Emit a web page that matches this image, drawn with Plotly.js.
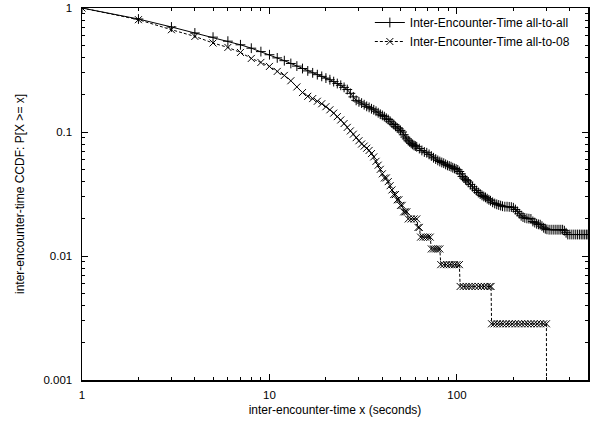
<!DOCTYPE html>
<html>
<head>
<meta charset="utf-8">
<script src="https://cdn.plot.ly/plotly-3.0.1.min.js"></script>
<style>
html,body{margin:0;padding:0;background:#fff;}
#chart{width:593px;height:425px;}
</style>
</head>
<body>
<div id="chart"></div>
<script>
// Inter-encounter time CCDF, all-to-all
const xAll = [
  1,2,3,4,5,6,7,8,9,10,11,12,13,14,15,16,17,18,19,20,21,22,23,24,25,26,27,28,29,
  30,31,32,33,34,35,36,37,38,39,40,41,42,43,44,45,46,47,48,49,50,51,52,53,54,55,56,57,58,59,60,61,
  63,65,67,69,71,73,75,77,79,81,83,85,87,89,91,93,95,97,99,101,
  103,105,107,109,111,113,115,
  118,121,124,127,130,133,136,139,142,145,148,151,
  155,159,163,167,171,175,
  180,185,190,195,200,205,210,215,220,225,230,
  236,242,248,254,260,266,272,278,284,290,296,302,
  310,318,326,334,342,350,358,366,374,382,390,
  400,410,420,430,440,450,460,470,480,490,500];
const yAll = [
  1,0.815,0.703,0.629,0.582,0.54,0.505,0.474,0.445,0.42,0.396,0.376,0.357,0.34,0.325,0.311,0.3,0.29,0.281,0.272,0.264,0.255,0.246,0.238,0.229,0.22,0.205,0.192,0.18,
  0.175,0.171,0.166,0.161,0.158,0.154,0.151,0.147,0.143,0.139,0.136,0.133,0.129,0.126,0.122,0.118,0.115,0.111,0.108,0.106,0.103,0.1,0.095,0.091,0.088,0.085,0.083,0.081,0.0795,0.078,0.077,0.076,
  0.0735,0.071,0.069,0.068,0.066,0.064,0.062,0.0605,0.059,0.0578,0.0568,0.056,0.0548,0.0538,0.0532,0.0525,0.0515,0.0508,0.0502,0.0495,
  0.048,0.046,0.0438,0.0425,0.0413,0.0405,0.0395,
  0.0378,0.0362,0.0348,0.0337,0.0325,0.0316,0.0308,0.0302,0.0297,0.029,0.0284,0.0279,
  0.0271,0.0265,0.0261,0.0258,0.0255,0.0252,
  0.025,0.025,0.0249,0.0248,0.0245,0.0237,0.0229,0.0219,0.0211,0.0206,0.0203,
  0.0201,0.02,0.0199,0.019,0.0186,0.0182,0.018,0.0179,0.0174,0.0169,0.0166,0.0164,
  0.0163,0.0163,0.0163,0.0163,0.0163,0.0163,0.0163,0.0163,0.016,0.0154,0.0149,
  0.0149,0.0149,0.0149,0.0149,0.0149,0.0149,0.0149,0.0149,0.0149,0.0149,0.0149];

// Inter-encounter time CCDF, all-to-08
const x08 = [1,2,3,4,5,6,7,8,9,10,11,12,13,14,15,16,17,18,19,20,
  21,22,23,24,25,26,27,28,29,30,31,32,33,34,35,36,37,38,39,40,
  41,42,43,44,45,46,47,48,49,50,51,52,53,54,
  55,57,59,61,62,63,
  64,66,68,70,72,
  73,75,77,79,81,
  82,85,88,91,94,97,100,103,
  104,108,112,116,120,125,130,135,140,145,150,152,
  153,158,164,170,176,183,190,197,205,213,221,230,239,248,258,268,279,290,300,
  301];
const y08 = [1,0.805,0.668,0.59,0.522,0.481,0.438,0.392,0.364,0.338,
  0.308,0.286,0.259,0.231,0.208,0.194,0.186,0.177,0.169,0.16,
  0.151,0.142,0.133,0.125,0.117,0.109,0.102,0.096,0.09,0.085,
  0.08,0.077,0.074,0.071,0.067,0.063,0.058,0.054,0.05,0.046,
  0.0426,0.0426,0.0398,0.0369,0.0341,0.0313,0.0313,0.0284,0.0284,0.0256,0.0256,0.0227,0.0227,0.0227,
  0.0199,0.0199,0.0199,0.0199,0.017,0.017,
  0.0142,0.0142,0.0142,0.0142,0.0142,
  0.0114,0.0114,0.0114,0.0114,0.0114,
  0.00852,0.00852,0.00852,0.00852,0.00852,0.00852,0.00852,0.00852,
  0.00568,0.00568,0.00568,0.00568,0.00568,0.00568,0.00568,0.00568,0.00568,0.00568,0.00568,0.00568,
  0.00284,0.00284,0.00284,0.00284,0.00284,0.00284,0.00284,0.00284,0.00284,0.00284,0.00284,0.00284,0.00284,0.00284,0.00284,0.00284,0.00284,0.00284,0.00284,
  0.0001];

const seriesNames = ['Inter-Encounter-Time all-to-all', 'Inter-Encounter-Time all-to-08'];
const xTickVals = [1, 10, 100];
const xTickText = ['1', '10', '100'];
const yTickVals = [0.001, 0.01, 0.1, 1];
const yTickText = ['0.001', '0.01', '0.1', '1'];
const xTitle = 'inter-encounter-time x (seconds)';
const yTitle = 'inter-encounter-time CCDF: P[X >= x]';

const FONT = 'Liberation Sans, Arial, Helvetica, sans-serif';

const xMinor = [];
[1, 10, 100].forEach(d => { for (let k = 2; k <= 9; k++) { if (d * k <= 500) xMinor.push(d * k); } });
const yMinor = [];
[0.001, 0.01, 0.1].forEach(d => { for (let k = 2; k <= 9; k++) yMinor.push(d * k); });

const traces = [
  {
    x: xAll, y: yAll, name: seriesNames[0], type: 'scatter', mode: 'lines+markers',
    line: {color: '#000', width: 1},
    marker: {symbol: 'cross-thin-open', size: 7, color: '#000', line: {color: '#000', width: 1}},
    cliponaxis: true
  },
  {
    x: x08, y: y08, name: seriesNames[1], type: 'scatter', mode: 'lines+markers',
    line: {color: '#000', width: 1, dash: '3px,2px'},
    marker: {symbol: 'x-thin-open', size: 7, color: '#000', line: {color: '#000', width: 1}},
    cliponaxis: true
  }
];

const axisCommon = {
  type: 'log', showgrid: false, zeroline: false,
  showline: true, linecolor: '#000', linewidth: 1.5, mirror: 'allticks',
  ticks: 'inside', ticklen: 6, tickwidth: 1, tickcolor: '#000',
  tickfont: {family: FONT, size: 11.5, color: '#000'},
  tickmode: 'array'
};

const layout = {
  width: 593, height: 425,
  margin: {l: 82, r: 5, t: 8, b: 45},
  paper_bgcolor: '#fff', plot_bgcolor: '#fff',
  showlegend: true,
  legend: {
    x: 0.974, y: 1, xanchor: 'right', yanchor: 'top',
    bgcolor: 'rgba(0,0,0,0)', borderwidth: 0,
    font: {family: FONT, size: 12, color: '#000'},
    tracegroupgap: 0, itemwidth: 30
  },
  xaxis: Object.assign({}, axisCommon, {
    range: [0, Math.log10(500)],
    tickvals: xTickVals, ticktext: xTickText,
    ticklabelstandoff: 4,
    minor: {tickmode: 'array', tickvals: xMinor, ticks: 'inside', ticklen: 3, tickcolor: '#000', tickwidth: 1, showgrid: false},
    title: {text: xTitle, font: {family: FONT, size: 12, color: '#000'}, standoff: 5}
  }),
  yaxis: Object.assign({}, axisCommon, {
    range: [-3, 0],
    tickvals: yTickVals, ticktext: yTickText,
    ticklabelstandoff: 6,
    minor: {tickmode: 'array', tickvals: yMinor, ticks: 'inside', ticklen: 3, tickcolor: '#000', tickwidth: 1, showgrid: false}
  }),
  annotations: [{
    text: yTitle, xref: 'paper', yref: 'paper', x: -0.1225, y: 0.5,
    xanchor: 'center', yanchor: 'middle', textangle: -90, showarrow: false,
    font: {family: FONT, size: 12, color: '#000'}
  }]
};

Plotly.newPlot('chart', traces, layout, {staticPlot: true, displayModeBar: false});
</script>
</body>
</html>
